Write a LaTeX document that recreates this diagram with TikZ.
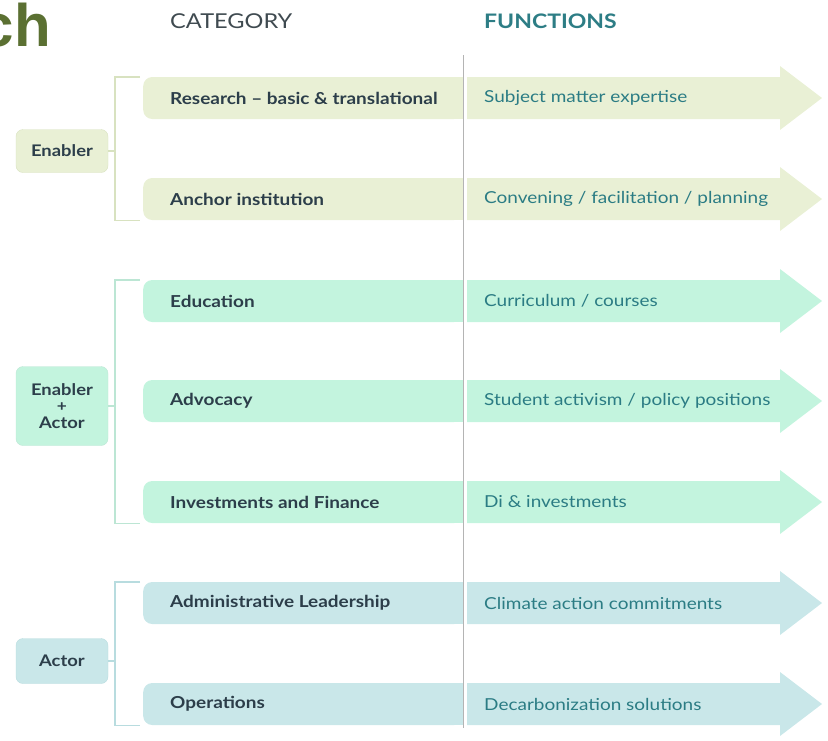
\documentclass[tikz,border=0pt]{standalone}
\usepackage{fontspec}
\setmainfont{Lato}[FakeStretch=1.15]
\newfontfamily\titlefont{Liberation Sans}
\definecolor{olivetitle}{HTML}{5B7032}
\definecolor{hdrgrey}{HTML}{3F4A50}
\definecolor{hdrteal}{HTML}{2D7D85}
\definecolor{catink}{HTML}{2C3E4A}
\definecolor{funink}{HTML}{2B7C84}
\definecolor{divline}{HTML}{B4B4B4}
\definecolor{fillA}{HTML}{E9F0D5}
\definecolor{lineA}{HTML}{D8E2C0}
\definecolor{fillB}{HTML}{C3F4DE}
\definecolor{lineB}{HTML}{BCE6D4}
\definecolor{fillC}{HTML}{C9E7E9}
\definecolor{lineC}{HTML}{B8DCDF}

\tikzset{
  header/.style={anchor=west, inner sep=0, font=\fontsize{20.5}{24}\selectfont},
  barbox/.style={anchor=west, minimum width=320, minimum height=42, inner sep=0,
                 rounded corners=9},
  catlabel/.style={anchor=west, inner sep=0, text=catink,
                   font=\bfseries\fontsize{16.5}{19}\selectfont},
  funlabel/.style={anchor=west, inner sep=0, text=funink,
                   font=\fontsize{16.5}{19}\selectfont},
  groupbox/.style={minimum width=92, inner sep=0, rounded corners=7, align=center,
                   text=catink, font=\bfseries\fontsize{16}{16.5}\selectfont},
  bracket/.style={line width=1.4}
}

% One row: a category bar on the left and a function arrow on the right.
% #1 id, #2 y centre, #3 fill colour, #4 category, #5 function
\newcommand{\catrow}[5]{%
  \node[barbox, fill=#3] (bar#1) at (143,#2) {};
  \fill[#3] ([xshift=-12]bar#1.north east) rectangle (bar#1.south east);
  \fill[#3] (467,#2-21) -- (780,#2-21) -- (780,#2-32) -- (822,#2)
            -- (780,#2+32) -- (780,#2+21) -- (467,#2+21) -- cycle;
  \node[catlabel] (cat#1) at ([xshift=27]bar#1.west) {#4};
  \node[funlabel] (fun#1) at (484,#2) {#5};
}

\begin{document}
\begin{tikzpicture}[x=1pt,y=-1pt]
\useasboundingbox (0,0) rectangle (828,740);
\clip (0,0) rectangle (828,740);

% title fragment
\node[anchor=base east, inner sep=0, text=olivetitle,
      font=\titlefont\bfseries\fontsize{60}{60}\selectfont] (title) at (51,46) {ch};

% column headers
\node[header, text=hdrgrey] (hcat) at (170,21) {CATEGORY};
\node[header, text=hdrteal, font=\bfseries\fontsize{20}{24}\selectfont] (hfun) at (484,21) {FUNCTIONS};

% rows
\catrow{1}{98}{fillA}{Research -- basic \& translational}{Subject matter expertise}
\catrow{2}{199}{fillA}{Anchor institution}{Convening / facilitation / planning}
\catrow{3}{301}{fillB}{Education}{Curriculum / courses}
\catrow{4}{401}{fillB}{Advocacy}{Student activism / policy positions}
\catrow{5}{502}{fillB}{Investments and Finance}{Di \& investments}
\catrow{6}{603}{fillC}{Administrative Leadership}{Climate action commitments}
\catrow{7}{704}{fillC}{Operations}{Decarbonization solutions}

% column divider
\draw[divline, line width=1] (463,55) -- (463,728);

% groups
\node[groupbox, fill=fillA, draw=lineA, minimum height=43] (gEnabler) at (62,151) {Enabler};
\node[groupbox, fill=fillB, draw=lineB, minimum height=79] (gBoth) at (62,406)
  {Enabler\\{\fontsize{15}{15}\selectfont +}\\Actor};
\node[groupbox, fill=fillC, draw=lineC, minimum height=45] (gActor) at (62,661) {Actor};

% brackets joining each group to its rows
\draw[bracket, lineA] ([xshift=-3]bar1.north west) -- ++(-25,0) |- ([xshift=-3]bar2.south west);
\draw[bracket, lineB] ([xshift=-3]bar3.north west) -- ++(-25,0) |- ([xshift=-3]bar5.south west);
\draw[bracket, lineC] ([xshift=-3]bar6.north west) -- ++(-25,0) |- ([xshift=-3]bar7.south west);
\draw[bracket, lineA] (gEnabler.east) -- ++(7,0);
\draw[bracket, lineB] (gBoth.east) -- ++(7,0);
\draw[bracket, lineC] (gActor.east) -- ++(7,0);
\end{tikzpicture}
\end{document}
